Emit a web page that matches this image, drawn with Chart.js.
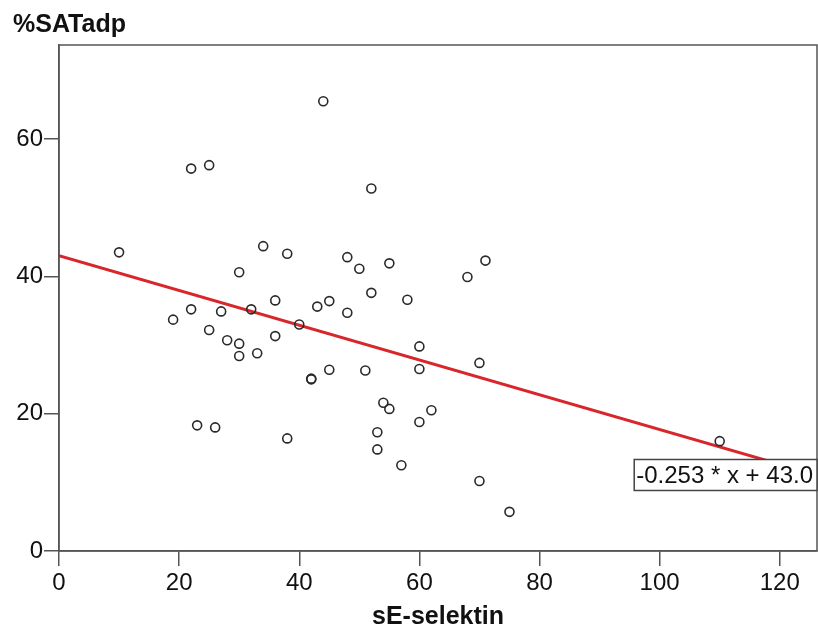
<!DOCTYPE html>
<html>
<head>
<meta charset="utf-8">
<script src="https://cdn.jsdelivr.net/npm/chart.js@4"></script>
<style>
    html, body { margin: 0; padding: 0; background: #fff; }
    #wrap { width: 818px; height: 630px; }
</style>
</head>
<body>
<div id="wrap"><canvas id="scatter"></canvas></div>
<script>
// sE-selektin vs %SATadp
const selektin = [10, 22, 25, 44, 52, 34, 38, 48, 50, 55, 71, 68, 30, 52, 58, 36, 45, 43, 22, 32,
                  27, 48, 19, 40, 25, 36, 28, 30, 60, 30, 33, 70, 60, 51, 45, 42, 42, 54, 55, 62,
                  60, 23, 26, 53, 38, 53, 57, 110, 70, 75];
const satAdp   = [43.5, 55.7, 56.2, 65.5, 52.8, 44.4, 43.3, 42.8, 41.1, 41.9, 42.3, 39.9, 40.6, 37.6, 36.6, 36.5, 36.4, 35.6, 35.2, 35.2,
                  34.9, 34.7, 33.7, 33.0, 32.2, 31.3, 30.7, 30.2, 29.8, 28.4, 28.8, 27.4, 26.5, 26.3, 26.4, 25.0, 25.1, 21.6, 20.7, 20.5,
                  18.8, 18.3, 18.0, 17.3, 16.4, 14.8, 12.5, 16.0, 10.2, 5.7];

// linear fit
const slope = -0.253;
const intercept = 43.0;
const fitLabel = '-0.253 * x + 43.0';

const xTicks = [0, 20, 40, 60, 80, 100, 120];
const yTicks = [0, 20, 40, 60];
const xRange = [0, 126.2];
const yRange = [0, 73.7];

const points = selektin.map((x, i) => ({x: x, y: satAdp[i]}));
const fitLine = xRange.map(x => ({x: x, y: slope * x + intercept}));

const axisColor = '#555555';
const font = 'Arial, "Liberation Sans", sans-serif';

// box round the plot, y-axis name at the top left, fit-line label
const frame = {
    id: 'frame',
    afterDatasetsDraw(chart) {
        const a = chart.chartArea;
        const ctx = chart.ctx;
        ctx.save();
        ctx.strokeStyle = axisColor;
        ctx.lineWidth = 1.5;
        ctx.strokeRect(a.left, a.top, a.right - a.left, a.bottom - a.top);

        // equation box sits on the right end of the line
        const yEnd = chart.scales.y.getPixelForValue(fitLine[1].y);
        ctx.font = '24px ' + font;
        const w = ctx.measureText(fitLabel).width + 6;
        const h = 31;
        const bx = a.right - w;
        const by = yEnd - h / 2;
        ctx.fillStyle = '#fff';
        ctx.fillRect(bx, by, w, h);
        ctx.strokeStyle = '#444';
        ctx.lineWidth = 1.5;
        ctx.strokeRect(bx, by, w, h);
        ctx.fillStyle = '#111';
        ctx.textBaseline = 'middle';
        ctx.textAlign = 'left';
        ctx.fillText(fitLabel, bx + 2, yEnd + 1);

        ctx.font = 'bold 25px ' + font;
        ctx.textBaseline = 'top';
        ctx.fillText('%SATadp', 13, 13);
        ctx.restore();
    }
};

const ctx = document.getElementById('scatter').getContext('2d');
const chart = new Chart(ctx, {
    type: 'scatter',
    data: {
        datasets: [{
            type: 'line',
            data: fitLine,
            borderColor: '#d9262b',
            borderWidth: 3,
            pointRadius: 0,
            fill: false,
            order: 2
        }, {
            data: points,
            backgroundColor: 'rgba(255,255,255,0)',
            borderColor: '#2a2a2a',
            borderWidth: 1.6,
            pointRadius: 4.5,
            order: 1
        }]
    },
    options: {
        responsive: true,
        maintainAspectRatio: false,
        animation: false,
        layout: {
            autoPadding: false,
            padding: {top: 45, right: 1, left: 0, bottom: 0}
        },
        plugins: {
            legend: {display: false},
            tooltip: {enabled: false}
        },
        scales: {
            x: {
                type: 'linear',
                min: xRange[0],
                max: xRange[1],
                afterBuildTicks: s => { s.ticks = xTicks.map(v => ({value: v})); },
                afterFit: s => { s.height = 79; s.paddingRight = 0; s.paddingLeft = 0; },
                grid: {drawOnChartArea: false, tickLength: 15, color: axisColor, lineWidth: 1.5},
                border: {color: axisColor, width: 1.5},
                ticks: {color: '#111', padding: 3, font: {family: font, size: 24}},
                title: {
                    display: true,
                    text: 'sE-selektin',
                    color: '#111',
                    padding: {top: 0, bottom: 0},
                    font: {family: font, size: 25, weight: 'bold', lineHeight: 1.0}
                }
            },
            y: {
                type: 'linear',
                min: yRange[0],
                max: yRange[1],
                afterBuildTicks: s => { s.ticks = yTicks.map(v => ({value: v})); },
                afterFit: s => { s.width = 59; s.paddingTop = 0; s.paddingBottom = 0; },
                grid: {drawOnChartArea: false, tickLength: 15, color: axisColor, lineWidth: 1.5},
                border: {color: axisColor, width: 1.5},
                ticks: {color: '#111', padding: 1, font: {family: font, size: 24}}
            }
        }
    },
    plugins: [frame]
});
</script>
</body>
</html>
